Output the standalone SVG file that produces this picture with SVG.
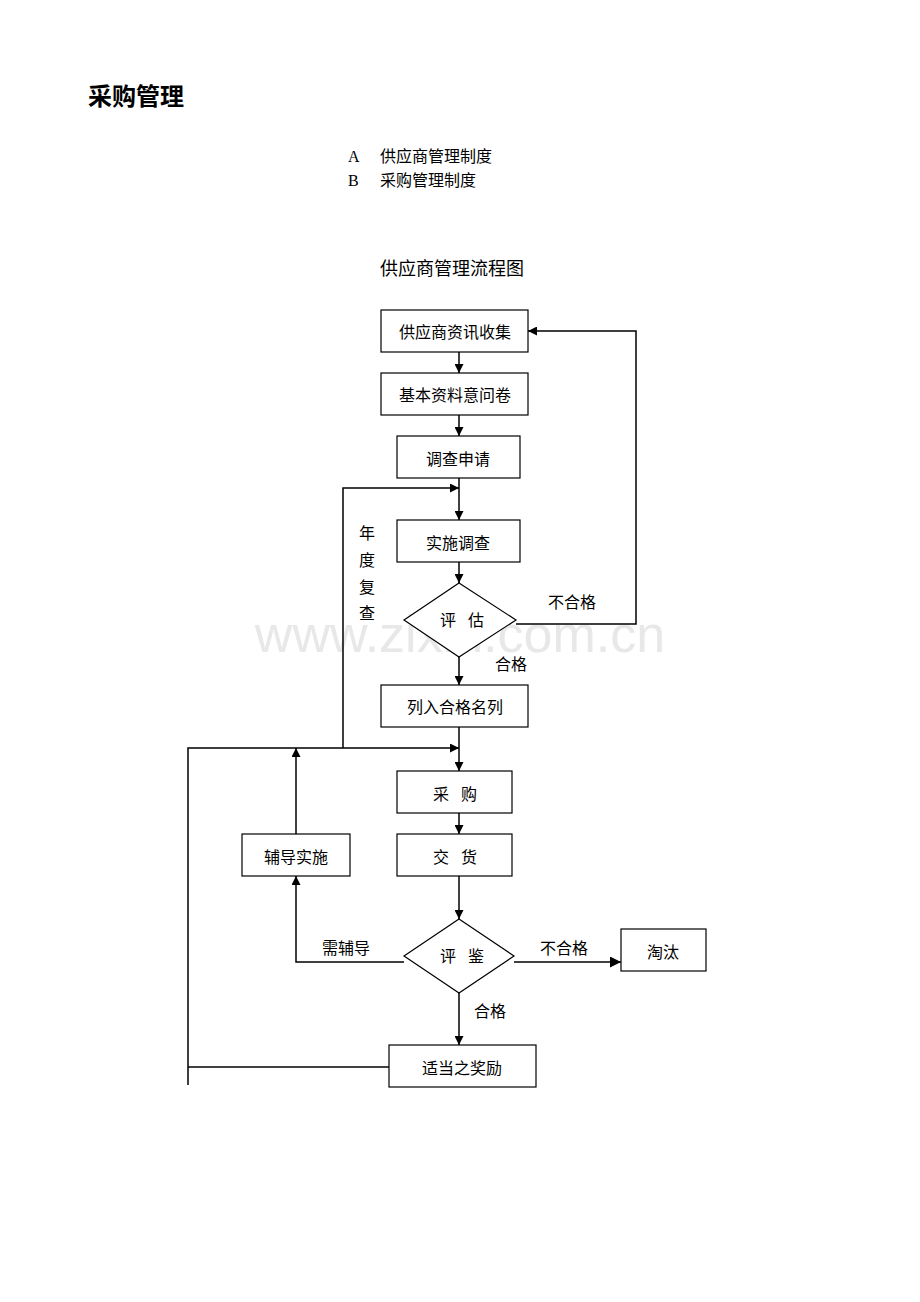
<svg xmlns="http://www.w3.org/2000/svg" width="920" height="1302" viewBox="0 0 920 1302">
<style>
text{font-family:"Liberation Serif","Noto Sans CJK SC",serif;fill:#000}
.n{fill:#fff;stroke:#000;stroke-width:1.2}
.t{font-size:16px;text-anchor:middle}
.l{font-size:16px}
.c{fill:none;stroke:#000;stroke-width:1.5}
</style>
<defs><marker id="a" viewBox="0 0 10 10" refX="10" refY="5" markerWidth="9" markerHeight="9" orient="auto" markerUnits="userSpaceOnUse"><path d="M0,0L10,5L0,10z"/></marker>
<marker id="b" viewBox="0 0 10 10" refX="10" refY="5" markerWidth="11" markerHeight="11" orient="auto" markerUnits="userSpaceOnUse"><path d="M0,0L10,5L0,10z"/></marker></defs>
<rect width="920" height="1302" fill="#fff"/>
<text x="88" y="105" style="font-size:24px;font-weight:bold;font-family:'Noto Sans CJK SC',sans-serif">采购管理</text>
<text x="348" y="162" class="l">A</text><text x="380" y="162" class="l">供应商管理制度</text>
<text x="348" y="186" class="l">B</text><text x="380" y="186" class="l">采购管理制度</text>
<text x="380" y="275" style="font-size:18px">供应商管理流程图</text>
<text x="460" y="652" style="font-size:52px;fill:#e8e8e8;text-anchor:middle;font-family:'Liberation Sans',sans-serif">www.zixin.com.cn</text>
<g id="connectors">
<path class="c" d="M459,352V373" marker-end="url(#a)"/>
<path class="c" d="M459,415V436" marker-end="url(#a)"/>
<path class="c" d="M459,478V520" marker-end="url(#a)"/>
<path class="c" d="M459,562V583" marker-end="url(#a)"/>
<path class="c" d="M459,657V685" marker-end="url(#a)"/>
<path class="c" d="M459,727V771" marker-end="url(#a)"/>
<path class="c" d="M459,813V834" marker-end="url(#a)"/>
<path class="c" d="M459,876V919" marker-end="url(#a)"/>
<path class="c" d="M459,993V1045" marker-end="url(#a)"/>
<path class="c" d="M516,624H636V331H528" marker-end="url(#a)"/>
<path class="c" d="M343,748V488H459" marker-end="url(#a)"/>
<path class="c" d="M188,1085V748H459" marker-end="url(#a)"/>
<path class="c" d="M389,1067H188"/>
<path class="c" d="M404,962H296V876" marker-end="url(#a)"/>
<path class="c" d="M296,834V748" marker-end="url(#a)"/>
<path class="c" d="M514,962H621" marker-end="url(#b)"/>
</g>
<g class="l">
<text x="548" y="608" class="l">不合格</text>
<text x="495" y="670" class="l">合格</text>
<text x="322" y="954" class="l">需辅导</text>
<text x="540" y="954" class="l">不合格</text>
<text x="474" y="1017" class="l">合格</text>
<text x="359" y="539" class="l">年</text><text x="359" y="566" class="l">度</text><text x="359" y="593" class="l">复</text><text x="359" y="619" class="l">查</text>
</g>
<g id="n1"><rect class="n" x="381" y="310" width="147" height="42"/><text class="t" x="455" y="338">供应商资讯收集</text></g>
<g id="n2"><rect class="n" x="381" y="373" width="147" height="42"/><text class="t" x="455" y="401">基本资料意问卷</text></g>
<g id="n3"><rect class="n" x="397" y="436" width="123" height="42"/><text class="t" x="458" y="465">调查申请</text></g>
<g id="n4"><rect class="n" x="397" y="520" width="123" height="42"/><text class="t" x="458" y="549">实施调查</text></g>
<g id="d1"><polygon class="n" points="459,583 516,620 459,657 404,620"/><text class="t" x="462" y="626" xml:space="preserve">评   估</text></g>
<g id="n5"><rect class="n" x="381" y="685" width="147" height="42"/><text class="t" x="455" y="713">列入合格名列</text></g>
<g id="n6"><rect class="n" x="397" y="771" width="115" height="42"/><text class="t" x="455" y="800" xml:space="preserve">采   购</text></g>
<g id="n7"><rect class="n" x="397" y="834" width="115" height="42"/><text class="t" x="455" y="863" xml:space="preserve">交   货</text></g>
<g id="d2"><polygon class="n" points="459,919 514,956 459,993 404,956"/><text class="t" x="462" y="962" xml:space="preserve">评   鉴</text></g>
<g id="n8"><rect class="n" x="621" y="929" width="85" height="42"/><text class="t" x="663" y="958">淘汰</text></g>
<g id="n9"><rect class="n" x="242" y="834" width="108" height="42"/><text class="t" x="296" y="863">辅导实施</text></g>
<g id="n10"><rect class="n" x="389" y="1045" width="147" height="42"/><text class="t" x="462" y="1074">适当之奖励</text></g>
</svg>
